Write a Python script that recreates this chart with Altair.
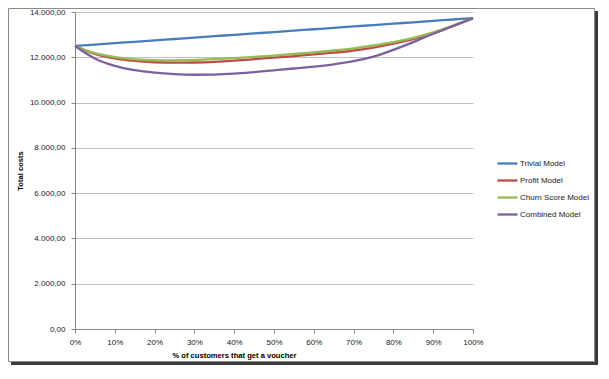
import altair as alt
import pandas as pd

pct = [0.00, 0.05, 0.10, 0.15, 0.20, 0.25, 0.30, 0.35, 0.40, 0.45, 0.50,
       0.55, 0.60, 0.65, 0.70, 0.75, 0.80, 0.85, 0.90, 0.95, 1.00]

trivial = [12500, 12562, 12623, 12685, 12746, 12808, 12869, 12931, 12992, 13054, 13115,
           13177, 13238, 13300, 13361, 13423, 13484, 13546, 13607, 13669, 13730]
profit = [12500, 12150, 11950, 11840, 11780, 11760, 11770, 11800, 11850, 11915, 11985,
          12055, 12125, 12205, 12300, 12430, 12600, 12800, 13050, 13380, 13730]
churn = [12500, 12180, 12010, 11910, 11870, 11865, 11880, 11915, 11960, 12015, 12075,
         12145, 12220, 12300, 12395, 12520, 12670, 12860, 13100, 13400, 13730]
combined = [12500, 11950, 11620, 11430, 11320, 11255, 11228, 11235, 11275, 11345, 11425,
            11505, 11590, 11690, 11830, 12030, 12330, 12670, 13040, 13380, 13730]

series_names = ["Trivial Model", "Profit Model", "Churn Score Model", "Combined Model"]
series_colors = ["#4A7EBB", "#BE4B48", "#98B954", "#7D60A0"]
x_ticks = [0, 0.1, 0.2, 0.3, 0.4, 0.5, 0.6, 0.7, 0.8, 0.9, 1.0]
y_ticks = [0, 2000, 4000, 6000, 8000, 10000, 12000, 14000]

rows = []
for name, vals in zip(series_names, [trivial, profit, churn, combined]):
    for p, v in zip(pct, vals):
        rows.append({"pct": p, "cost": v, "model": name})
df = pd.DataFrame(rows)

FONT = "Liberation Sans"
W, H = 398, 317
PAD_L, PAD_T, PAD_R, PAD_B = 67, 4, 126, 37

one = pd.DataFrame({"k": [0]})
frame = alt.Chart(one).mark_rect(
    fillOpacity=0, stroke="#8a8a8a", strokeWidth=1
).encode(
    x=alt.value(-PAD_L + 0.5), x2=alt.value(W + PAD_R - 4.5),
    y=alt.value(-PAD_T + 0.5), y2=alt.value(H + PAD_B - 4.5)
)
shadow_r = alt.Chart(one).mark_rect(fill="#3a3a3a").encode(
    x=alt.value(W + PAD_R - 4), x2=alt.value(W + PAD_R - 1),
    y=alt.value(-PAD_T + 3), y2=alt.value(H + PAD_B - 1)
)
shadow_b = alt.Chart(one).mark_rect(fill="#3a3a3a").encode(
    x=alt.value(-PAD_L + 3), x2=alt.value(W + PAD_R - 1),
    y=alt.value(H + PAD_B - 4), y2=alt.value(H + PAD_B - 1)
)

lines = alt.Chart(df).mark_line(strokeWidth=2.3, interpolate="monotone").encode(
    x=alt.X("pct:Q", scale=alt.Scale(domain=[0, 1], nice=False),
            axis=alt.Axis(values=x_ticks, format=".0%", grid=False,
                          title="% of customers that get a voucher",
                          titleX=159, titlePadding=5, labelFlush=False,
                          labelPadding=5, tickSize=4)),
    y=alt.Y("cost:Q", scale=alt.Scale(domain=[0, 14000], nice=False),
            axis=alt.Axis(values=y_ticks, grid=True, title="Total costs",
                          labelExpr="datum.value >= 1000 ? floor(datum.value/1000) + '.' + format(datum.value % 1000, '03d') + ',00' : format(datum.value, 'd') + ',00'",
                          labelPadding=6, tickSize=4, titlePadding=5)),
    color=alt.Color("model:N",
                    scale=alt.Scale(domain=series_names, range=series_colors),
                    legend=alt.Legend(orient="none", legendX=421, legendY=140,
                                      title=None, symbolType="stroke",
                                      symbolSize=400, symbolStrokeWidth=2.3,
                                      labelFontSize=8, labelFont=FONT,
                                      labelColor="#222", labelOffset=1,
                                      rowPadding=-0.5))
)

chart = alt.layer(shadow_r, shadow_b, frame, lines).properties(
    width=W, height=H,
    autosize=alt.AutoSizeParams(type="none"),
    padding={"left": PAD_L, "top": PAD_T, "right": PAD_R, "bottom": PAD_B},
    background="white"
).configure_view(stroke=None).configure_axis(
    labelFont=FONT, labelFontSize=8, labelColor="#222",
    titleFont=FONT, titleFontSize=7.6, titleFontWeight="bold", titleColor="#000",
    domainColor="#868686", tickColor="#868686", gridColor="#c0c0c0",
    gridWidth=1
)

chart.save("out.html", embed_options={"renderer": "svg", "actions": False})
